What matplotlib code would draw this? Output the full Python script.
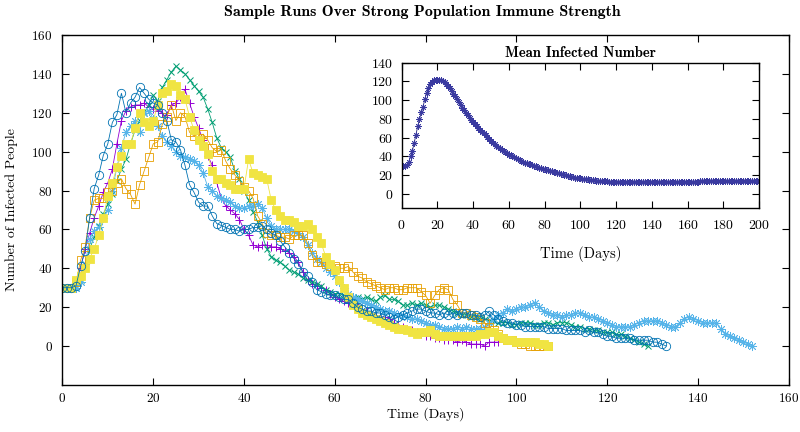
import numpy as np
import matplotlib
matplotlib.use("Agg")
import matplotlib.pyplot as plt

# ---------------- data ----------------
run_purple = [30,30,30,30,40,50,58,66,72,79,84,91,104,116,121,123,124,124,125,123,
              122,121,120,119,124,125,128,132,125,118,112,106,98,93,84,76,72,70,68,65,
              60,57,52,51,52,52,51,51,50,49,48,46,43,38,34,32,31,30,29,27,
              25,24,23,22,21,20,19,18,17,16,15,15,14,12,11,10,9,8,7,6,
              5,5,4,4,3,3,3,2,3,2,1,1,1,0,2,2,2]
run_green = [30,30,30,30,34,42,50,56,62,68,73,78,85,91,96,104,111,116,120,124,
             129,126,133,137,141,144,142,140,137,134,131,128,122,115,107,102,100,97,90,86,
             80,75,69,64,57,50,46,44,43,41,39,38,37,35,34,33,32,31,29,28,
             27,27,26,24,24,25,24,25,24,23,25,26,24,24,23,21,21,22,21,22,
             21,20,21,21,20,19,18,17,16,16,15,15,14,14,13,13,12,12,12,11,
             11,12,12,12,11,11,12,12,11,12,12,12,11,10,10,9,9,8,8,7,
             7,7,6,6,5,4,3,2,1,0]
run_sky = [30,30,30,30,33,42,55,59,61,66,70,80,92,102,110,113,116,110,120,121,
           117,113,108,105,103,100,98,97,96,95,93,89,82,80,77,76,75,74,72,71,
           71,72,72,73,71,66,62,60,60,60,60,59,58,56,52,48,45,43,40,38,
           36,33,30,27,25,24,23,22,21,20,19,18,18,17,16,16,15,14,14,13,
           12,11,11,10,9,9,9,10,9,10,9,9,9,10,12,14,16,17,19,18,
           19,20,20,21,22,20,18,17,16,16,15,16,16,17,17,16,15,15,14,13,
           12,11,10,10,10,10,11,12,13,13,13,13,12,11,10,10,12,14,15,14,
           13,12,12,12,12,9,6,5,4,3,2,1,0]
run_orange = [30,30,30,33,44,51,66,75,76,76,79,80,84,86,81,78,73,83,90,97,
              104,105,114,118,124,116,120,118,110,108,107,109,106,102,100,101,95,91,88,85,
              82,80,76,67,63,58,57,57,56,56,55,57,57,57,53,47,43,43,42,41,
              41,40,40,41,38,36,35,33,32,31,30,29,30,30,29,29,30,30,30,28,
              26,22,26,29,30,29,24,21,17,17,16,15,14,12,10,8,6,4,3,3,
              2,1,1,0,0,0,0,0]
run_yellow = [30,30,30,34,36,40,45,50,57,66,77,84,92,98,104,104,112,120,115,113,
              116,124,130,131,135,134,129,127,118,111,106,103,99,90,86,86,84,83,81,81,
              81,96,89,88,87,86,75,70,67,65,65,64,62,62,63,60,56,53,46,42,
              39,34,30,25,21,19,17,16,15,14,13,12,11,10,9,9,8,7,6,7,
              7,8,6,5,5,5,5,5,5,5,5,5,6,6,7,7,5,4,3,3,
              2,2,2,2,2,1,1,0]
run_blue = [30,30,30,31,41,49,66,81,88,98,104,115,119,130,120,125,128,133,130,127,
            125,124,120,116,106,105,101,93,83,79,74,72,72,67,63,62,61,60,60,59,
            60,60,61,61,62,60,58,57,54,51,48,45,42,38,36,33,29,28,27,26,
            26,25,24,24,22,20,19,18,18,17,17,16,15,14,15,16,17,18,19,19,
            18,17,17,16,17,16,17,16,17,17,16,16,15,16,18,16,14,13,12,12,
            11,11,10,10,10,10,10,9,9,9,9,8,8,8,8,7,8,7,7,6,
            5,5,4,4,4,4,3,3,3,3,2,2,1,0]

mean_infected = [30,30,30,31,34,40,46,54,63,72,80,87,93,101,108,113,117,119.5,121,121.5,
                 122,121.5,121,120,119,117.5,115.5,113,110,107,104,101,98,95,92,89,86.5,84,81.5,79,
                 77,75,72.5,70.5,68.5,66.5,64.5,62.5,60.5,58.5,56.5,54.5,53,51.5,50,48.5,47,45.5,44.5,43.5,
                 42,41,40,39,38.5,37.5,36.5,35.5,34.5,33.5,33,32,31.5,31,30,29.5,29,28,27.5,27,
                 26.5,25.5,25,24.5,24,23.5,23,22.5,22,21.5,21,20.5,20,19.5,19,18.5,18,17.5,17.5,17,
                 16.5,
                 16.2,16,15.7,15.5,15.2,15,14.8,14.5,14.3,14.1,14,13.8,13.6,13.5,13.3,13.2,13,12.9,12.8,12.7,
                 12.6,12.5,12.5,12.4,12.4,12.3,12.3,12.3,12.2,12.2,12.2,12.2,12.2,12.2,12.3,12.3,12.3,12.3,12.4,12.4,
                 12.4,12.5,12.5,12.5,12.6,12.6,12.6,12.7,12.7,12.7,
                 12.8,12.8,12.8,12.9,12.9,12.9,13,13,13,13,13.1,13.1,13.1,13.2,13.2,13.2,13.3,13.3,13.3,13.3,
                 13.4,13.4,13.4,13.5,13.5,13.5,13.5,13.6,13.6,13.6,13.7,13.7,13.7,13.8,13.8,13.8,13.8,13.9,13.9,13.9,
                 14,14,14,14,14.1,14.1,14.1,14.2,14.2,14.2]

main_xticks = [0, 20, 40, 60, 80, 100, 120, 140, 160]
main_yticks = [0, 20, 40, 60, 80, 100, 120, 140, 160]
inset_xticks = [0, 20, 40, 60, 80, 100, 120, 140, 160, 180, 200]
inset_yticks = [0, 20, 40, 60, 80, 100, 120, 140]

# ---------------- style ----------------
plt.rcParams['font.family'] = ['cmr10', 'DejaVu Serif']
plt.rcParams['mathtext.fontset'] = 'cm'
plt.rcParams['axes.formatter.use_mathtext'] = True

fig = plt.figure(figsize=(8, 4.32), dpi=100)
ax = fig.add_axes([0.078, 0.109, 0.908, 0.810])

star = (8, 2, 0)
series = [
    (run_purple, '#9400d3', '+', dict(ms=6, mew=0.7)),
    (run_green, '#009e73', 'x', dict(ms=5, mew=0.7)),
    (run_sky, '#56b4e9', star, dict(ms=6.5, mew=0.6)),
    (run_orange, '#e69f00', 's', dict(ms=5.5, mew=0.6, mfc='none')),
    (run_yellow, '#f0e442', 's', dict(ms=5.5, mew=0.6)),
    (run_blue, '#0072b2', 'o', dict(ms=6, mew=0.6, mfc='none')),
]
for vals, col, mk, kw in series:
    d = np.arange(len(vals))
    ax.plot(d, vals, color=col, marker=mk, lw=0.6, **kw)

ax.set_xlim(0, 160)
ax.set_ylim(-20, 160)
ax.set_xticks(main_xticks)
ax.set_yticks(main_yticks)
ax.tick_params(direction='in', length=5, width=0.8, top=True, right=True,
               labelsize=9.5)
ax.tick_params(axis='x', pad=5)
ax.tick_params(axis='y', pad=7)
for s in ax.spines.values():
    s.set_linewidth(1.0)
ax.set_xlabel('Time (Days)', fontsize=10, labelpad=2)
ax.set_ylabel('Number of Infected People', fontsize=10, labelpad=10)
fig.text(0.528, 0.972, 'Sample Runs Over Strong Population Immune Strength',
         family='cmb10', fontsize=11.5, ha='center', va='center')

# ---------------- inset ----------------
ins = fig.add_axes([0.502, 0.5185, 0.447, 0.3365])
dm = np.arange(len(mean_infected))
ins.plot(dm, mean_infected, color='#22227a', marker=star, ms=4.5, mew=0.6, lw=0.6,
         mec='#3a3aa0')
ins.set_xlim(0, 200)
ins.set_ylim(-15, 140)
ins.set_xticks(inset_xticks)
ins.set_yticks(inset_yticks)
ins.tick_params(direction='in', length=5, width=0.8, top=True, right=True,
                labelsize=10, pad=6)
ins.tick_params(axis='x', pad=8)
for s in ins.spines.values():
    s.set_linewidth(1.0)
ins.set_xlabel('Time (Days)', fontsize=10.5, labelpad=10)
ins.set_title('Mean Infected Number', family='cmb10', fontsize=10.5, pad=4)

fig.savefig('out.png', dpi=100)
